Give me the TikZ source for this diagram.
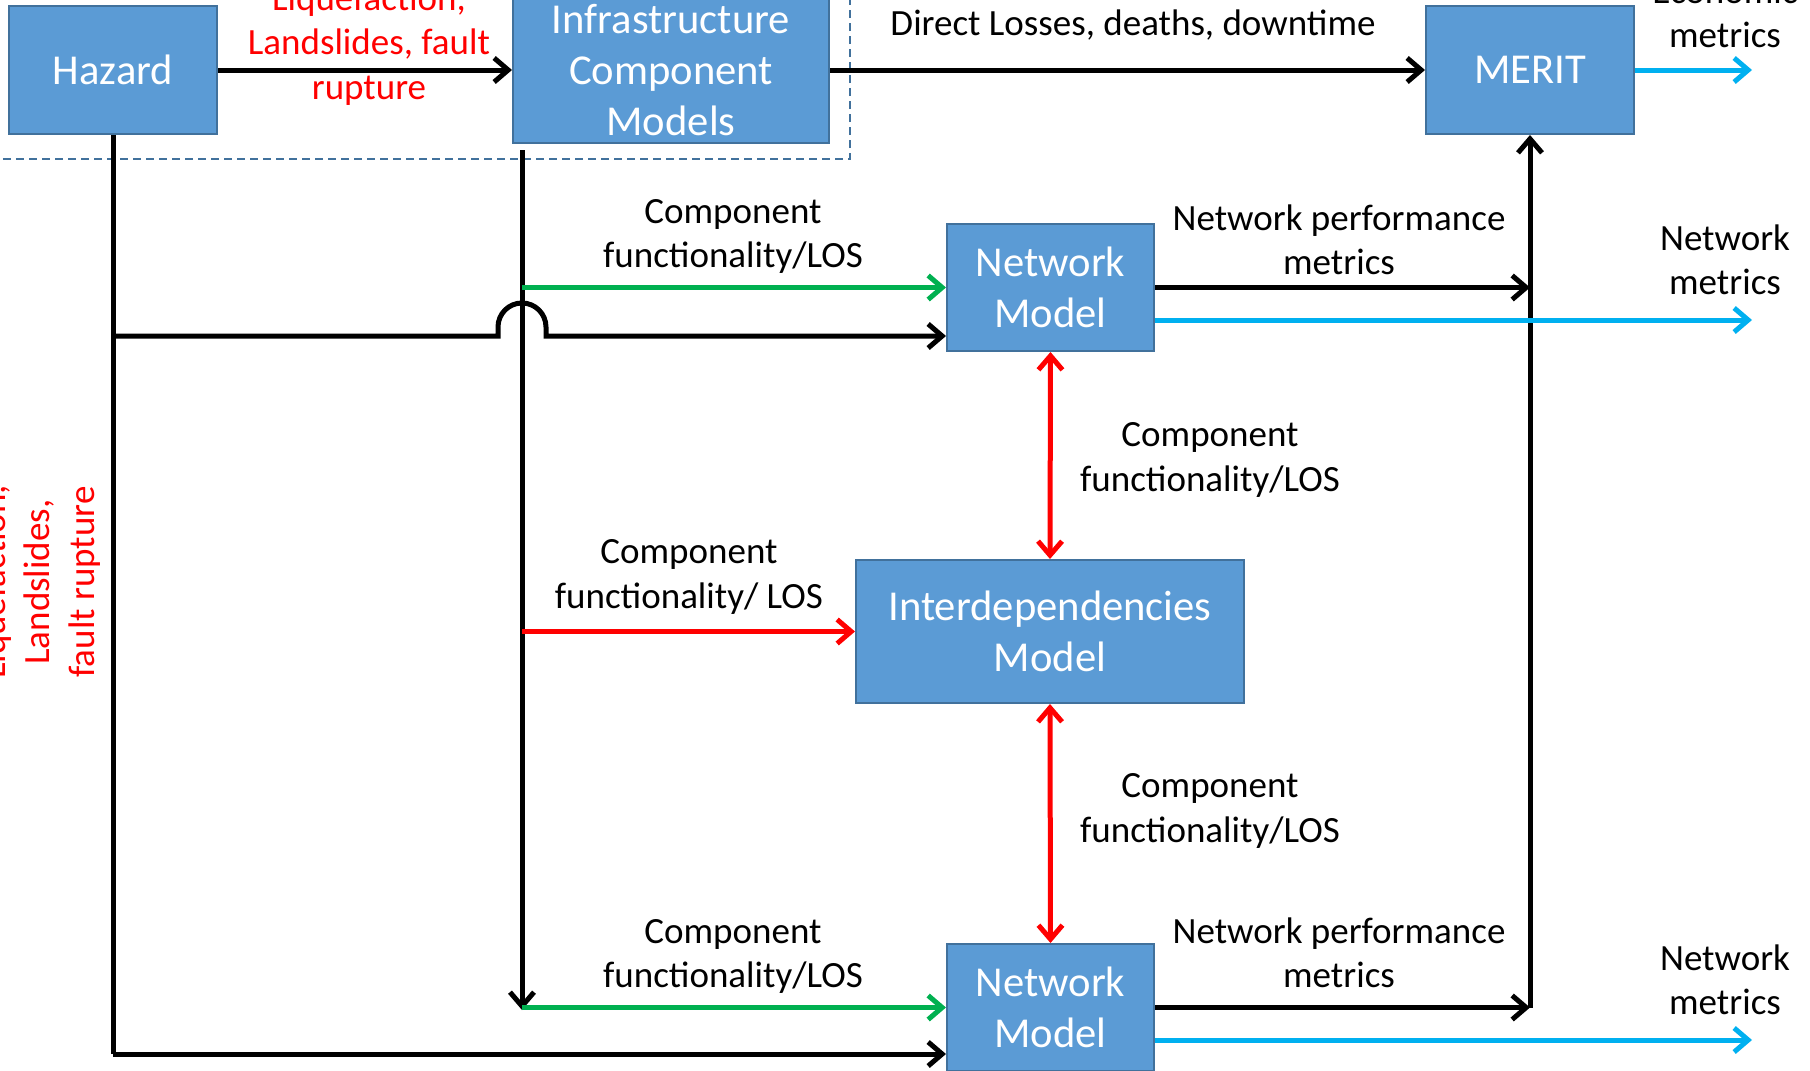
\documentclass[tikz,border=0pt]{standalone}
\usepackage{fontspec}
\setmainfont{Carlito}
\usetikzlibrary{arrows.meta, positioning, calc}
\definecolor{BoxBlue}{RGB}{91,155,213}
\definecolor{BoxEdge}{RGB}{65,113,156}
\definecolor{FlowGreen}{RGB}{0,176,80}
\definecolor{FlowRed}{RGB}{255,0,0}
\definecolor{FlowCyan}{RGB}{0,176,240}

\begin{document}
\begin{tikzpicture}[x=0.5pt, y=-0.5pt,
  bx/.style={rectangle, draw=BoxEdge, line width=1pt, fill=BoxBlue,
             text=white, align=center, inner sep=0pt,
             font=\fontsize{21.3}{25.5}\selectfont},
  lb/.style={align=center, font=\fontsize{18.5}{22.2}\selectfont},
  arr/.style={line width=2.5pt, -{Straight Barb[length=7pt,width=12pt]}},
  dbl/.style={line width=2.5pt, {Straight Barb[length=7pt,width=12pt]}-{Straight Barb[length=7pt,width=12pt]}}
]
  \useasboundingbox (0,0) rectangle (1810,1071);
  \clip (0,0) rectangle (1810,1071);

  % boxes
  \node[bx, minimum width=104pt, minimum height=64pt]   (hz)   at (113,70)     {Hazard};
  \node[bx, minimum width=158pt, minimum height=72.5pt] (icm)  at (671,70)     {Infrastructure\\Component\\Models};
  \node[bx, minimum width=104pt, minimum height=64pt]   (mer)  at (1530,70)    {MERIT};
  \node[bx, minimum width=103.5pt, minimum height=63.5pt] (nm1) at (1050.5,287.5) {Network\\Model};
  \node[bx, minimum width=194pt, minimum height=71.5pt] (idm)  at (1050,631.5)  {Interdependencies\\Model};
  \node[bx, minimum width=103.5pt, minimum height=63.5pt] (nm2) at (1050.5,1007.5) {Network\\Model};

  \draw[BoxEdge, line width=1pt, dash pattern=on 4pt off 2.5pt] (-10,-10) rectangle (850,159);

  % junction points
  \coordinate (hzj) at (113,336);
  \coordinate (hzb) at (113,1054);
  \coordinate (icmt) at (522,150);
  \coordinate (icmb) at (522,1010);
  \coordinate (g1) at (522,287.5);
  \coordinate (g2) at (522,631.5);
  \coordinate (g3) at (522,1007.5);
  \coordinate (mv1) at (mer.south |- nm1.east);
  \coordinate (mv2) at (mer.south |- nm2.east);

  % top row
  \draw[arr] (hz.east) -- (icm.west);
  \draw[arr] (icm.east) -- (mer.west);
  \draw[arr, FlowCyan] (mer.east) -- (1752,70);

  % hazard lines
  \draw[line width=2.5pt] (hz.south) -- (hzb);
  \draw[arr] (hzb) -- (hzb -| nm2.west);
  \draw[arr] (hzj) -- (498,336) -- ++(0,-9) arc[start angle=180, end angle=0, radius=12pt]
    -- ++(0,9) -- (nm1.west |- hzj);

  % component lines
  \draw[arr] (icmt) -- (icmb);
  \draw[arr, FlowGreen] (g1) -- (nm1.west);
  \draw[arr, FlowRed] (g2) -- (idm.west);
  \draw[arr, FlowGreen] (g3) -- (nm2.west);

  % interdependencies
  \draw[dbl, FlowRed] (nm1.south) -- (idm.north);
  \draw[dbl, FlowRed] (idm.south) -- (nm2.north);

  % network outputs
  \draw[arr] (nm1.east) -- (mv1);
  \draw[arr] (nm2.east) -- (mv2);
  \draw[arr] (mv2) -- (mer.south);
  \draw[arr, FlowCyan] ($(nm1.east)+(0,32.5)$) -- (1752,320);
  \draw[arr, FlowCyan] ($(nm2.east)+(0,32.5)$) -- (1752,1040);

  % labels
  \node[lb, text=FlowRed] (lhz) at (369,45) {Liquefaction,\\Landslides, fault\\rupture};
  \node[lb, text=FlowRed, rotate=90] (lhzv) at (40,582) {Liquefaction,\\Landslides,\\fault rupture};
  \node[lb] (ldir) at (1133,25) {Direct Losses, deaths, downtime};
  \node[lb] (lmer) at (1725,13) {Economic\\metrics};
  \node[lb] (lg1) at (733,236.5) {Component\\functionality/LOS};
  \node[lb] (lr1) at (689,577) {Component\\functionality/ LOS};
  \node[lb] (lg2) at (733,956.5) {Component\\functionality/LOS};
  \node[lb] (ld1) at (1210,460) {Component\\functionality/LOS};
  \node[lb] (ld2) at (1210,811) {Component\\functionality/LOS};
  \node[lb] (lp1) at (1339,240) {Network performance\\metrics};
  \node[lb] (lp2) at (1339,953) {Network performance\\metrics};
  \node[lb] (ln1) at (1725,260) {Network\\metrics};
  \node[lb] (ln2) at (1725,980) {Network\\metrics};
\end{tikzpicture}
\end{document}
